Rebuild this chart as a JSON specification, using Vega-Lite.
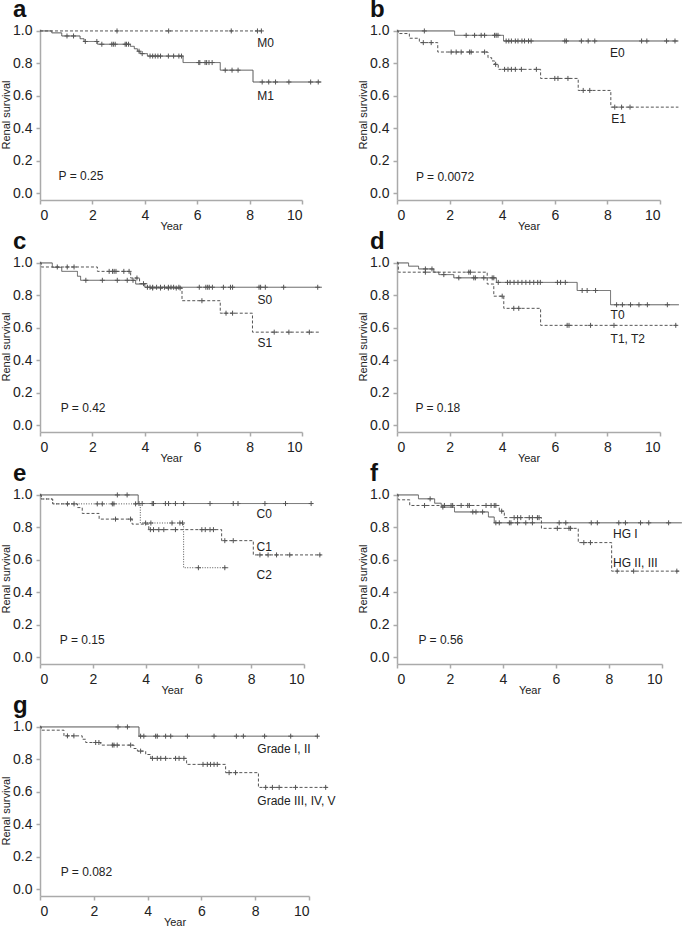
{
"$schema": "https://vega.github.io/schema/vega-lite/v6.json",
"padding": {"left": 0, "top": -3, "right": 0, "bottom": 0},
"background": "white",
"config": {
  "view": {"stroke": null},
  "font": "Liberation Sans",
  "title": {"fontSize": 24, "fontWeight": "bold", "anchor": "start", "frame": "group", "dx": -27, "offset": 2, "color": "#111", "font": "Liberation Sans"},
  "axis": {"grid": false, "domainColor": "#aaa", "domainWidth": 1.5, "tickColor": "#aaa", "tickWidth": 1.5, "tickSize": 4, "labelFont": "Liberation Sans", "labelFontSize": 14, "labelColor": "#222", "titleFont": "Liberation Sans", "titleFontSize": 11, "titleFontWeight": "normal", "titleColor": "#222", "labelPadding": 4},
  "axisX": {"titlePadding": -2},
  "axisY": {"titlePadding": 1}
},
"datasets": {
"km": [
{"p":"a","g":"M0","t":0,"s":1},{"p":"a","g":"M0","t":8.45,"s":1},
{"p":"a","g":"M1","t":0,"s":1},{"p":"a","g":"M1","t":0.45,"s":0.988},{"p":"a","g":"M1","t":0.83,"s":0.969},{"p":"a","g":"M1","t":1.53,"s":0.952},{"p":"a","g":"M1","t":1.68,"s":0.935},{"p":"a","g":"M1","t":2.2,"s":0.918},{"p":"a","g":"M1","t":3.45,"s":0.905},{"p":"a","g":"M1","t":3.6,"s":0.89},{"p":"a","g":"M1","t":3.72,"s":0.875},{"p":"a","g":"M1","t":3.82,"s":0.86},{"p":"a","g":"M1","t":4.1,"s":0.845},{"p":"a","g":"M1","t":5.46,"s":0.805},{"p":"a","g":"M1","t":6.88,"s":0.758},{"p":"a","g":"M1","t":8.13,"s":0.685},{"p":"a","g":"M1","t":10.74,"s":0.685},
{"p":"b","g":"E0","t":0,"s":1},{"p":"b","g":"E0","t":2.19,"s":0.973},{"p":"b","g":"E0","t":4.05,"s":0.938},{"p":"b","g":"E0","t":10.7,"s":0.938},
{"p":"b","g":"E1","t":0,"s":1},{"p":"b","g":"E1","t":0.05,"s":0.984},{"p":"b","g":"E1","t":0.47,"s":0.955},{"p":"b","g":"E1","t":0.85,"s":0.928},{"p":"b","g":"E1","t":1.55,"s":0.87},{"p":"b","g":"E1","t":3.46,"s":0.835},{"p":"b","g":"E1","t":3.6,"s":0.815},{"p":"b","g":"E1","t":3.71,"s":0.794},{"p":"b","g":"E1","t":3.85,"s":0.763},{"p":"b","g":"E1","t":5.46,"s":0.707},{"p":"b","g":"E1","t":6.89,"s":0.633},{"p":"b","g":"E1","t":8.13,"s":0.53},{"p":"b","g":"E1","t":10.7,"s":0.53},
{"p":"c","g":"S0","t":0,"s":1},{"p":"c","g":"S0","t":0.47,"s":0.973},{"p":"c","g":"S0","t":0.83,"s":0.948},{"p":"c","g":"S0","t":1.43,"s":0.918},{"p":"c","g":"S0","t":1.55,"s":0.893},{"p":"c","g":"S0","t":3.65,"s":0.87},{"p":"c","g":"S0","t":4.0,"s":0.85},{"p":"c","g":"S0","t":10.76,"s":0.85},
{"p":"c","g":"S1","t":0,"s":1},{"p":"c","g":"S1","t":0.05,"s":0.975},{"p":"c","g":"S1","t":2.19,"s":0.948},{"p":"c","g":"S1","t":3.46,"s":0.907},{"p":"c","g":"S1","t":3.8,"s":0.872},{"p":"c","g":"S1","t":4.1,"s":0.845},{"p":"c","g":"S1","t":5.42,"s":0.767},{"p":"c","g":"S1","t":6.88,"s":0.69},{"p":"c","g":"S1","t":8.11,"s":0.573},{"p":"c","g":"S1","t":10.65,"s":0.573},
{"p":"d","g":"T0","t":0,"s":1},{"p":"d","g":"T0","t":0.44,"s":0.98},{"p":"d","g":"T0","t":0.82,"s":0.963},{"p":"d","g":"T0","t":1.4,"s":0.943},{"p":"d","g":"T0","t":1.59,"s":0.928},{"p":"d","g":"T0","t":2.16,"s":0.908},{"p":"d","g":"T0","t":3.78,"s":0.88},{"p":"d","g":"T0","t":6.85,"s":0.83},{"p":"d","g":"T0","t":8.12,"s":0.742},{"p":"d","g":"T0","t":10.72,"s":0.742},
{"p":"d","g":"T12","t":0,"s":1},{"p":"d","g":"T12","t":0.05,"s":0.943},{"p":"d","g":"T12","t":3.43,"s":0.87},{"p":"d","g":"T12","t":3.68,"s":0.795},{"p":"d","g":"T12","t":4.06,"s":0.72},{"p":"d","g":"T12","t":5.46,"s":0.615},{"p":"d","g":"T12","t":10.65,"s":0.615},
{"p":"e","g":"C0","t":0,"s":1},{"p":"e","g":"C0","t":3.72,"s":0.947},{"p":"e","g":"C0","t":10.34,"s":0.947},
{"p":"e","g":"C1","t":0,"s":1},{"p":"e","g":"C1","t":0.05,"s":0.975},{"p":"e","g":"C1","t":0.48,"s":0.945},{"p":"e","g":"C1","t":1.42,"s":0.922},{"p":"e","g":"C1","t":1.6,"s":0.886},{"p":"e","g":"C1","t":2.24,"s":0.851},{"p":"e","g":"C1","t":3.49,"s":0.82},{"p":"e","g":"C1","t":4.12,"s":0.786},{"p":"e","g":"C1","t":6.88,"s":0.718},{"p":"e","g":"C1","t":8.08,"s":0.63},{"p":"e","g":"C1","t":10.65,"s":0.63},
{"p":"e","g":"C2","t":0,"s":1},{"p":"e","g":"C2","t":0.05,"s":0.975},{"p":"e","g":"C2","t":0.48,"s":0.945},{"p":"e","g":"C2","t":3.8,"s":0.827},{"p":"e","g":"C2","t":5.44,"s":0.551},{"p":"e","g":"C2","t":7.13,"s":0.551},
{"p":"f","g":"HG1","t":0,"s":1},{"p":"f","g":"HG1","t":0.81,"s":0.976},{"p":"f","g":"HG1","t":1.42,"s":0.949},{"p":"f","g":"HG1","t":1.67,"s":0.925},{"p":"f","g":"HG1","t":2.17,"s":0.895},{"p":"f","g":"HG1","t":3.45,"s":0.864},{"p":"f","g":"HG1","t":3.67,"s":0.828},{"p":"f","g":"HG1","t":10.75,"s":0.828},
{"p":"f","g":"HG23","t":0,"s":1},{"p":"f","g":"HG23","t":0.05,"s":0.97},{"p":"f","g":"HG23","t":0.48,"s":0.935},{"p":"f","g":"HG23","t":3.86,"s":0.9},{"p":"f","g":"HG23","t":4.05,"s":0.86},{"p":"f","g":"HG23","t":5.45,"s":0.794},{"p":"f","g":"HG23","t":6.84,"s":0.706},{"p":"f","g":"HG23","t":8.1,"s":0.53},{"p":"f","g":"HG23","t":10.69,"s":0.53},
{"p":"g","g":"G12","t":0,"s":1},{"p":"g","g":"G12","t":3.68,"s":0.943},{"p":"g","g":"G12","t":10.35,"s":0.943},
{"p":"g","g":"G35","t":0,"s":1},{"p":"g","g":"G35","t":0.05,"s":0.98},{"p":"g","g":"G35","t":0.89,"s":0.945},{"p":"g","g":"G35","t":1.57,"s":0.924},{"p":"g","g":"G35","t":1.7,"s":0.904},{"p":"g","g":"G35","t":2.26,"s":0.888},{"p":"g","g":"G35","t":3.49,"s":0.867},{"p":"g","g":"G35","t":3.62,"s":0.851},{"p":"g","g":"G35","t":3.93,"s":0.83},{"p":"g","g":"G35","t":4.12,"s":0.806},{"p":"g","g":"G35","t":5.45,"s":0.769},{"p":"g","g":"G35","t":6.9,"s":0.718},{"p":"g","g":"G35","t":8.12,"s":0.627},{"p":"g","g":"G35","t":10.68,"s":0.627}
],
"cen": [
{"p":"a","t":2.94,"s":1},{"p":"a","t":4.91,"s":1},{"p":"a","t":7.3,"s":1},{"p":"a","t":8.3,"s":1},{"p":"a","t":8.45,"s":1},
{"p":"a","t":1.03,"s":0.969},{"p":"a","t":1.28,"s":0.969},{"p":"a","t":1.73,"s":0.935},{"p":"a","t":2.17,"s":0.935},{"p":"a","t":2.36,"s":0.918},{"p":"a","t":2.74,"s":0.918},{"p":"a","t":2.8,"s":0.918},{"p":"a","t":2.87,"s":0.918},{"p":"a","t":3.25,"s":0.918},{"p":"a","t":3.3,"s":0.918},{"p":"a","t":3.38,"s":0.918},{"p":"a","t":3.78,"s":0.875},{"p":"a","t":3.9,"s":0.86},{"p":"a","t":4.2,"s":0.845},{"p":"a","t":4.3,"s":0.845},{"p":"a","t":4.4,"s":0.845},{"p":"a","t":4.5,"s":0.845},{"p":"a","t":4.6,"s":0.845},{"p":"a","t":4.9,"s":0.845},{"p":"a","t":5.1,"s":0.845},{"p":"a","t":5.3,"s":0.845},{"p":"a","t":5.4,"s":0.845},{"p":"a","t":6.06,"s":0.805},{"p":"a","t":6.1,"s":0.805},{"p":"a","t":6.3,"s":0.805},{"p":"a","t":6.36,"s":0.805},{"p":"a","t":6.45,"s":0.805},{"p":"a","t":6.57,"s":0.805},{"p":"a","t":7.07,"s":0.758},{"p":"a","t":7.33,"s":0.758},{"p":"a","t":7.56,"s":0.758},{"p":"a","t":8.48,"s":0.685},{"p":"a","t":8.73,"s":0.685},{"p":"a","t":8.99,"s":0.685},{"p":"a","t":9.5,"s":0.685},{"p":"a","t":10.33,"s":0.685},{"p":"a","t":10.62,"s":0.685},
{"p":"b","t":1.04,"s":1},{"p":"b","t":2.63,"s":0.973},{"p":"b","t":2.95,"s":0.973},{"p":"b","t":3.2,"s":0.973},{"p":"b","t":3.33,"s":0.973},{"p":"b","t":3.71,"s":0.973},{"p":"b","t":3.77,"s":0.973},{"p":"b","t":3.84,"s":0.973},{"p":"b","t":4.15,"s":0.938},{"p":"b","t":4.25,"s":0.938},{"p":"b","t":4.35,"s":0.938},{"p":"b","t":4.5,"s":0.938},{"p":"b","t":4.6,"s":0.938},{"p":"b","t":4.75,"s":0.938},{"p":"b","t":4.85,"s":0.938},{"p":"b","t":5.0,"s":0.938},{"p":"b","t":5.1,"s":0.938},{"p":"b","t":6.38,"s":0.938},{"p":"b","t":6.44,"s":0.938},{"p":"b","t":7.01,"s":0.938},{"p":"b","t":7.27,"s":0.938},{"p":"b","t":7.52,"s":0.938},{"p":"b","t":9.3,"s":0.938},{"p":"b","t":9.5,"s":0.938},{"p":"b","t":10.25,"s":0.938},{"p":"b","t":10.57,"s":0.938},
{"p":"b","t":1.0,"s":0.928},{"p":"b","t":1.3,"s":0.928},{"p":"b","t":2.06,"s":0.87},{"p":"b","t":2.25,"s":0.87},{"p":"b","t":2.44,"s":0.87},{"p":"b","t":2.76,"s":0.87},{"p":"b","t":2.82,"s":0.87},{"p":"b","t":3.33,"s":0.87},{"p":"b","t":3.75,"s":0.794},{"p":"b","t":4.09,"s":0.763},{"p":"b","t":4.22,"s":0.763},{"p":"b","t":4.35,"s":0.763},{"p":"b","t":4.5,"s":0.763},{"p":"b","t":4.73,"s":0.763},{"p":"b","t":5.3,"s":0.763},{"p":"b","t":6.0,"s":0.707},{"p":"b","t":6.12,"s":0.707},{"p":"b","t":6.5,"s":0.707},{"p":"b","t":7.08,"s":0.633},{"p":"b","t":7.33,"s":0.633},{"p":"b","t":8.28,"s":0.53},{"p":"b","t":8.54,"s":0.53},{"p":"b","t":8.86,"s":0.53},
{"p":"c","t":1.75,"s":0.893},{"p":"c","t":2.38,"s":0.893},{"p":"c","t":2.95,"s":0.893},{"p":"c","t":3.33,"s":0.893},{"p":"c","t":3.55,"s":0.893},{"p":"c","t":4.1,"s":0.85},{"p":"c","t":4.2,"s":0.85},{"p":"c","t":4.3,"s":0.85},{"p":"c","t":4.45,"s":0.85},{"p":"c","t":4.6,"s":0.85},{"p":"c","t":4.75,"s":0.85},{"p":"c","t":4.9,"s":0.85},{"p":"c","t":5.0,"s":0.85},{"p":"c","t":5.1,"s":0.85},{"p":"c","t":5.3,"s":0.85},{"p":"c","t":6.08,"s":0.85},{"p":"c","t":6.33,"s":0.85},{"p":"c","t":6.4,"s":0.85},{"p":"c","t":6.46,"s":0.85},{"p":"c","t":6.58,"s":0.85},{"p":"c","t":7.0,"s":0.85},{"p":"c","t":7.27,"s":0.85},{"p":"c","t":7.35,"s":0.85},{"p":"c","t":8.36,"s":0.85},{"p":"c","t":8.42,"s":0.85},{"p":"c","t":8.6,"s":0.85},{"p":"c","t":9.3,"s":0.85},{"p":"c","t":10.6,"s":0.85},
{"p":"c","t":0.66,"s":0.975},{"p":"c","t":1.04,"s":0.975},{"p":"c","t":1.3,"s":0.975},{"p":"c","t":2.64,"s":0.948},{"p":"c","t":2.77,"s":0.948},{"p":"c","t":2.83,"s":0.948},{"p":"c","t":2.9,"s":0.948},{"p":"c","t":3.2,"s":0.948},{"p":"c","t":3.4,"s":0.948},{"p":"c","t":3.7,"s":0.907},{"p":"c","t":3.95,"s":0.872},{"p":"c","t":4.3,"s":0.845},{"p":"c","t":4.6,"s":0.845},{"p":"c","t":4.9,"s":0.845},{"p":"c","t":5.2,"s":0.845},{"p":"c","t":5.35,"s":0.845},{"p":"c","t":6.18,"s":0.767},{"p":"c","t":7.1,"s":0.69},{"p":"c","t":7.35,"s":0.69},{"p":"c","t":8.94,"s":0.573},{"p":"c","t":9.5,"s":0.573},{"p":"c","t":10.28,"s":0.573},
{"p":"d","t":1.08,"s":0.963},{"p":"d","t":1.33,"s":0.963},{"p":"d","t":1.78,"s":0.928},{"p":"d","t":2.35,"s":0.908},{"p":"d","t":2.92,"s":0.908},{"p":"d","t":2.98,"s":0.908},{"p":"d","t":3.3,"s":0.908},{"p":"d","t":3.62,"s":0.908},{"p":"d","t":3.68,"s":0.908},{"p":"d","t":3.85,"s":0.88},{"p":"d","t":4.2,"s":0.88},{"p":"d","t":4.3,"s":0.88},{"p":"d","t":4.45,"s":0.88},{"p":"d","t":4.6,"s":0.88},{"p":"d","t":4.75,"s":0.88},{"p":"d","t":4.9,"s":0.88},{"p":"d","t":5.05,"s":0.88},{"p":"d","t":5.2,"s":0.88},{"p":"d","t":5.35,"s":0.88},{"p":"d","t":5.45,"s":0.88},{"p":"d","t":6.1,"s":0.88},{"p":"d","t":6.22,"s":0.88},{"p":"d","t":6.4,"s":0.88},{"p":"d","t":7.04,"s":0.83},{"p":"d","t":7.23,"s":0.83},{"p":"d","t":7.55,"s":0.83},{"p":"d","t":8.35,"s":0.742},{"p":"d","t":8.57,"s":0.742},{"p":"d","t":8.88,"s":0.742},{"p":"d","t":9.2,"s":0.742},{"p":"d","t":9.52,"s":0.742},{"p":"d","t":10.28,"s":0.742},
{"p":"d","t":1.08,"s":0.943},{"p":"d","t":2.73,"s":0.943},{"p":"d","t":2.79,"s":0.943},{"p":"d","t":4.0,"s":0.795},{"p":"d","t":4.44,"s":0.72},{"p":"d","t":4.63,"s":0.72},{"p":"d","t":6.47,"s":0.615},{"p":"d","t":6.54,"s":0.615},{"p":"d","t":7.36,"s":0.615},{"p":"d","t":8.25,"s":0.615},{"p":"d","t":10.6,"s":0.615},
{"p":"e","t":2.93,"s":1},{"p":"e","t":3.3,"s":1},{"p":"e","t":3.75,"s":0.947},{"p":"e","t":3.87,"s":0.947},{"p":"e","t":4.25,"s":0.947},{"p":"e","t":4.3,"s":0.947},{"p":"e","t":4.75,"s":0.947},{"p":"e","t":4.87,"s":0.947},{"p":"e","t":5.13,"s":0.947},{"p":"e","t":5.44,"s":0.947},{"p":"e","t":6.44,"s":0.947},{"p":"e","t":7.32,"s":0.947},{"p":"e","t":7.5,"s":0.947},{"p":"e","t":8.52,"s":0.947},{"p":"e","t":9.3,"s":0.947},{"p":"e","t":10.27,"s":0.947},
{"p":"e","t":2.86,"s":0.851},{"p":"e","t":3.43,"s":0.851},{"p":"e","t":4.18,"s":0.786},{"p":"e","t":4.3,"s":0.786},{"p":"e","t":4.5,"s":0.786},{"p":"e","t":4.69,"s":0.786},{"p":"e","t":5.13,"s":0.786},{"p":"e","t":6.13,"s":0.786},{"p":"e","t":6.26,"s":0.786},{"p":"e","t":6.44,"s":0.786},{"p":"e","t":6.57,"s":0.786},{"p":"e","t":7.0,"s":0.718},{"p":"e","t":7.32,"s":0.718},{"p":"e","t":8.33,"s":0.63},{"p":"e","t":8.64,"s":0.63},{"p":"e","t":8.96,"s":0.63},{"p":"e","t":9.46,"s":0.63},{"p":"e","t":10.6,"s":0.63},
{"p":"e","t":1.04,"s":0.945},{"p":"e","t":1.29,"s":0.945},{"p":"e","t":2.17,"s":0.945},{"p":"e","t":2.36,"s":0.945},{"p":"e","t":2.74,"s":0.945},{"p":"e","t":2.8,"s":0.945},{"p":"e","t":3.62,"s":0.945},{"p":"e","t":4.0,"s":0.827},{"p":"e","t":4.2,"s":0.827},{"p":"e","t":5.0,"s":0.827},{"p":"e","t":5.3,"s":0.827},{"p":"e","t":5.4,"s":0.827},{"p":"e","t":6.0,"s":0.551},{"p":"e","t":7.0,"s":0.551},
{"p":"f","t":1.25,"s":0.976},{"p":"f","t":1.73,"s":0.925},{"p":"f","t":2.86,"s":0.895},{"p":"f","t":2.98,"s":0.895},{"p":"f","t":3.23,"s":0.895},{"p":"f","t":3.73,"s":0.828},{"p":"f","t":3.86,"s":0.828},{"p":"f","t":4.24,"s":0.828},{"p":"f","t":4.3,"s":0.828},{"p":"f","t":4.55,"s":0.828},{"p":"f","t":4.86,"s":0.828},{"p":"f","t":5.11,"s":0.828},{"p":"f","t":6.12,"s":0.828},{"p":"f","t":6.37,"s":0.828},{"p":"f","t":7.33,"s":0.828},{"p":"f","t":7.56,"s":0.828},{"p":"f","t":8.37,"s":0.828},{"p":"f","t":8.62,"s":0.828},{"p":"f","t":9.19,"s":0.828},{"p":"f","t":9.5,"s":0.828},{"p":"f","t":10.25,"s":0.828},
{"p":"f","t":1.04,"s":0.935},{"p":"f","t":1.79,"s":0.935},{"p":"f","t":2.04,"s":0.935},{"p":"f","t":2.1,"s":0.935},{"p":"f","t":2.42,"s":0.935},{"p":"f","t":2.67,"s":0.935},{"p":"f","t":2.73,"s":0.935},{"p":"f","t":3.36,"s":0.935},{"p":"f","t":3.55,"s":0.935},{"p":"f","t":3.67,"s":0.935},{"p":"f","t":3.73,"s":0.935},{"p":"f","t":3.95,"s":0.9},{"p":"f","t":4.42,"s":0.86},{"p":"f","t":4.55,"s":0.86},{"p":"f","t":4.67,"s":0.86},{"p":"f","t":4.99,"s":0.86},{"p":"f","t":5.11,"s":0.86},{"p":"f","t":5.3,"s":0.86},{"p":"f","t":5.36,"s":0.86},{"p":"f","t":6.05,"s":0.794},{"p":"f","t":6.49,"s":0.794},{"p":"f","t":6.55,"s":0.794},{"p":"f","t":7.05,"s":0.706},{"p":"f","t":7.3,"s":0.706},{"p":"f","t":8.31,"s":0.53},{"p":"f","t":8.93,"s":0.53},{"p":"f","t":10.56,"s":0.53},
{"p":"g","t":2.9,"s":1},{"p":"g","t":3.25,"s":1},{"p":"g","t":3.74,"s":0.943},{"p":"g","t":3.86,"s":0.943},{"p":"g","t":4.3,"s":0.943},{"p":"g","t":4.36,"s":0.943},{"p":"g","t":4.67,"s":0.943},{"p":"g","t":4.86,"s":0.943},{"p":"g","t":5.48,"s":0.943},{"p":"g","t":6.47,"s":0.943},{"p":"g","t":7.3,"s":0.943},{"p":"g","t":7.56,"s":0.943},{"p":"g","t":8.35,"s":0.943},{"p":"g","t":9.32,"s":0.943},{"p":"g","t":10.31,"s":0.943},
{"p":"g","t":1.02,"s":0.945},{"p":"g","t":1.26,"s":0.945},{"p":"g","t":2.07,"s":0.904},{"p":"g","t":2.19,"s":0.904},{"p":"g","t":2.69,"s":0.888},{"p":"g","t":2.75,"s":0.888},{"p":"g","t":2.87,"s":0.888},{"p":"g","t":3.37,"s":0.888},{"p":"g","t":3.74,"s":0.851},{"p":"g","t":4.18,"s":0.806},{"p":"g","t":4.36,"s":0.806},{"p":"g","t":4.49,"s":0.806},{"p":"g","t":4.67,"s":0.806},{"p":"g","t":5.04,"s":0.806},{"p":"g","t":5.17,"s":0.806},{"p":"g","t":5.35,"s":0.806},{"p":"g","t":6.06,"s":0.769},{"p":"g","t":6.22,"s":0.769},{"p":"g","t":6.34,"s":0.769},{"p":"g","t":6.47,"s":0.769},{"p":"g","t":6.59,"s":0.769},{"p":"g","t":7.03,"s":0.718},{"p":"g","t":7.27,"s":0.718},{"p":"g","t":8.39,"s":0.627},{"p":"g","t":8.64,"s":0.627},{"p":"g","t":8.89,"s":0.627},{"p":"g","t":9.5,"s":0.627},{"p":"g","t":10.62,"s":0.627}
],
"lab": [
{"p":"a","txt":"M0","t":8.29,"s":0.928},{"p":"a","txt":"M1","t":8.29,"s":0.6},{"p":"a","txt":"P = 0.25","t":0.71,"s":0.105},
{"p":"b","txt":"E0","t":8.1,"s":0.866},{"p":"b","txt":"E1","t":8.15,"s":0.454},{"p":"b","txt":"P = 0.0072","t":0.72,"s":0.1},
{"p":"c","txt":"S0","t":8.3,"s":0.773},{"p":"c","txt":"S1","t":8.3,"s":0.505},{"p":"c","txt":"P = 0.42","t":0.79,"s":0.103},
{"p":"d","txt":"T0","t":8.12,"s":0.676},{"p":"d","txt":"T1, T2","t":8.12,"s":0.533},{"p":"d","txt":"P = 0.18","t":0.7,"s":0.102},
{"p":"e","txt":"C0","t":8.2,"s":0.88},{"p":"e","txt":"C1","t":8.2,"s":0.678},{"p":"e","txt":"C2","t":8.2,"s":0.504},{"p":"e","txt":"P = 0.15","t":0.75,"s":0.106},
{"p":"f","txt":"HG I","t":8.15,"s":0.757},{"p":"f","txt":"HG II, III","t":8.15,"s":0.58},{"p":"f","txt":"P = 0.56","t":0.81,"s":0.105},
{"p":"g","txt":"Grade I, II","t":8.08,"s":0.861},{"p":"g","txt":"Grade III, IV, V","t":8.08,"s":0.541},{"p":"g","txt":"P = 0.082","t":0.77,"s":0.102}
]
},
"columns": 2,
"bounds": "flush",
"align": "none",
"spacing": {"row": 61, "column": 88},
"resolve": {"scale": {"x": "independent", "y": "independent", "strokeDash": "independent"}},
"concat": [
{"title": "a", "width": 262, "height": 171,
 "encoding": {"x": {"field": "t", "type": "quantitative", "scale": {"domain": [0, 10], "nice": false, "zero": false}, "axis": {"values": [0,2,4,6,8,10], "title": "Year"}}, "y": {"field": "s", "type": "quantitative", "scale": {"domain": [-0.043, 1.012], "nice": false, "zero": false}, "axis": {"values": [0,0.2,0.4,0.6,0.8,1], "format": ".1f", "title": "Renal survival"}}},
 "layer": [
  {"data": {"name": "km"}, "transform": [{"filter": "datum.p === 'a'"}], "mark": {"type": "line", "interpolate": "step-after", "clip": false, "strokeWidth": 1, "color": "#555"}, "encoding": {"strokeDash": {"field": "g", "type": "nominal", "scale": {"domain": ["M0","M1"], "range": [[3,2],[1,0]]}, "legend": null}}},
  {"data": {"name": "cen"}, "transform": [{"filter": "datum.p === 'a'"}], "mark": {"type": "point", "shape": "M0,-1V1M-1,0H1", "filled": false, "size": 25, "strokeWidth": 1, "color": "#555", "opacity": 1, "clip": false}},
  {"data": {"name": "lab"}, "transform": [{"filter": "datum.p === 'a'"}], "mark": {"type": "text", "align": "left", "baseline": "middle", "fontSize": 12, "font": "Liberation Sans", "color": "#222", "clip": false}, "encoding": {"text": {"field": "txt"}}}
 ]},
{"title": "b", "width": 263, "height": 171,
 "encoding": {"x": {"field": "t", "type": "quantitative", "scale": {"domain": [0, 10], "nice": false, "zero": false}, "axis": {"values": [0,2,4,6,8,10], "title": "Year"}}, "y": {"field": "s", "type": "quantitative", "scale": {"domain": [-0.043, 1.012], "nice": false, "zero": false}, "axis": {"values": [0,0.2,0.4,0.6,0.8,1], "format": ".1f", "title": "Renal survival"}}},
 "layer": [
  {"data": {"name": "km"}, "transform": [{"filter": "datum.p === 'b'"}], "mark": {"type": "line", "interpolate": "step-after", "clip": false, "strokeWidth": 1, "color": "#555"}, "encoding": {"strokeDash": {"field": "g", "type": "nominal", "scale": {"domain": ["E0","E1"], "range": [[1,0],[3,2]]}, "legend": null}}},
  {"data": {"name": "cen"}, "transform": [{"filter": "datum.p === 'b'"}], "mark": {"type": "point", "shape": "M0,-1V1M-1,0H1", "filled": false, "size": 25, "strokeWidth": 1, "color": "#555", "opacity": 1, "clip": false}},
  {"data": {"name": "lab"}, "transform": [{"filter": "datum.p === 'b'"}], "mark": {"type": "text", "align": "left", "baseline": "middle", "fontSize": 12, "font": "Liberation Sans", "color": "#222", "clip": false}, "encoding": {"text": {"field": "txt"}}}
 ]},
{"title": "c", "width": 262, "height": 171,
 "encoding": {"x": {"field": "t", "type": "quantitative", "scale": {"domain": [0, 10], "nice": false, "zero": false}, "axis": {"values": [0,2,4,6,8,10], "title": "Year"}}, "y": {"field": "s", "type": "quantitative", "scale": {"domain": [-0.043, 1.012], "nice": false, "zero": false}, "axis": {"values": [0,0.2,0.4,0.6,0.8,1], "format": ".1f", "title": "Renal survival"}}},
 "layer": [
  {"data": {"name": "km"}, "transform": [{"filter": "datum.p === 'c'"}], "mark": {"type": "line", "interpolate": "step-after", "clip": false, "strokeWidth": 1, "color": "#555"}, "encoding": {"strokeDash": {"field": "g", "type": "nominal", "scale": {"domain": ["S0","S1"], "range": [[1,0],[3,2]]}, "legend": null}}},
  {"data": {"name": "cen"}, "transform": [{"filter": "datum.p === 'c'"}], "mark": {"type": "point", "shape": "M0,-1V1M-1,0H1", "filled": false, "size": 25, "strokeWidth": 1, "color": "#555", "opacity": 1, "clip": false}},
  {"data": {"name": "lab"}, "transform": [{"filter": "datum.p === 'c'"}], "mark": {"type": "text", "align": "left", "baseline": "middle", "fontSize": 12, "font": "Liberation Sans", "color": "#222", "clip": false}, "encoding": {"text": {"field": "txt"}}}
 ]},
{"title": "d", "width": 263, "height": 171,
 "encoding": {"x": {"field": "t", "type": "quantitative", "scale": {"domain": [0, 10], "nice": false, "zero": false}, "axis": {"values": [0,2,4,6,8,10], "title": "Year"}}, "y": {"field": "s", "type": "quantitative", "scale": {"domain": [-0.043, 1.012], "nice": false, "zero": false}, "axis": {"values": [0,0.2,0.4,0.6,0.8,1], "format": ".1f", "title": "Renal survival"}}},
 "layer": [
  {"data": {"name": "km"}, "transform": [{"filter": "datum.p === 'd'"}], "mark": {"type": "line", "interpolate": "step-after", "clip": false, "strokeWidth": 1, "color": "#555"}, "encoding": {"strokeDash": {"field": "g", "type": "nominal", "scale": {"domain": ["T0","T12"], "range": [[1,0],[3,2]]}, "legend": null}}},
  {"data": {"name": "cen"}, "transform": [{"filter": "datum.p === 'd'"}], "mark": {"type": "point", "shape": "M0,-1V1M-1,0H1", "filled": false, "size": 25, "strokeWidth": 1, "color": "#555", "opacity": 1, "clip": false}},
  {"data": {"name": "lab"}, "transform": [{"filter": "datum.p === 'd'"}], "mark": {"type": "text", "align": "left", "baseline": "middle", "fontSize": 12, "font": "Liberation Sans", "color": "#222", "clip": false}, "encoding": {"text": {"field": "txt"}}}
 ]},
{"title": "e", "width": 264, "height": 171,
 "encoding": {"x": {"field": "t", "type": "quantitative", "scale": {"domain": [0, 10], "nice": false, "zero": false}, "axis": {"values": [0,2,4,6,8,10], "title": "Year"}}, "y": {"field": "s", "type": "quantitative", "scale": {"domain": [-0.043, 1.012], "nice": false, "zero": false}, "axis": {"values": [0,0.2,0.4,0.6,0.8,1], "format": ".1f", "title": "Renal survival"}}},
 "layer": [
  {"data": {"name": "km"}, "transform": [{"filter": "datum.p === 'e'"}], "mark": {"type": "line", "interpolate": "step-after", "clip": false, "strokeWidth": 1, "color": "#555"}, "encoding": {"strokeDash": {"field": "g", "type": "nominal", "scale": {"domain": ["C0","C1","C2"], "range": [[1,0],[3,2],[1,1.5]]}, "legend": null}}},
  {"data": {"name": "cen"}, "transform": [{"filter": "datum.p === 'e'"}], "mark": {"type": "point", "shape": "M0,-1V1M-1,0H1", "filled": false, "size": 25, "strokeWidth": 1, "color": "#555", "opacity": 1, "clip": false}},
  {"data": {"name": "lab"}, "transform": [{"filter": "datum.p === 'e'"}], "mark": {"type": "text", "align": "left", "baseline": "middle", "fontSize": 12, "font": "Liberation Sans", "color": "#222", "clip": false}, "encoding": {"text": {"field": "txt"}}}
 ]},
{"title": "f", "width": 265, "height": 171,
 "encoding": {"x": {"field": "t", "type": "quantitative", "scale": {"domain": [0, 10], "nice": false, "zero": false}, "axis": {"values": [0,2,4,6,8,10], "title": "Year"}}, "y": {"field": "s", "type": "quantitative", "scale": {"domain": [-0.043, 1.012], "nice": false, "zero": false}, "axis": {"values": [0,0.2,0.4,0.6,0.8,1], "format": ".1f", "title": "Renal survival"}}},
 "layer": [
  {"data": {"name": "km"}, "transform": [{"filter": "datum.p === 'f'"}], "mark": {"type": "line", "interpolate": "step-after", "clip": false, "strokeWidth": 1, "color": "#555"}, "encoding": {"strokeDash": {"field": "g", "type": "nominal", "scale": {"domain": ["HG1","HG23"], "range": [[1,0],[3,2]]}, "legend": null}}},
  {"data": {"name": "cen"}, "transform": [{"filter": "datum.p === 'f'"}], "mark": {"type": "point", "shape": "M0,-1V1M-1,0H1", "filled": false, "size": 25, "strokeWidth": 1, "color": "#555", "opacity": 1, "clip": false}},
  {"data": {"name": "lab"}, "transform": [{"filter": "datum.p === 'f'"}], "mark": {"type": "text", "align": "left", "baseline": "middle", "fontSize": 12, "font": "Liberation Sans", "color": "#222", "clip": false}, "encoding": {"text": {"field": "txt"}}}
 ]},
{"title": "g", "width": 269, "height": 171,
 "encoding": {"x": {"field": "t", "type": "quantitative", "scale": {"domain": [0, 10], "nice": false, "zero": false}, "axis": {"values": [0,2,4,6,8,10], "title": "Year"}}, "y": {"field": "s", "type": "quantitative", "scale": {"domain": [-0.043, 1.012], "nice": false, "zero": false}, "axis": {"values": [0,0.2,0.4,0.6,0.8,1], "format": ".1f", "title": "Renal survival"}}},
 "layer": [
  {"data": {"name": "km"}, "transform": [{"filter": "datum.p === 'g'"}], "mark": {"type": "line", "interpolate": "step-after", "clip": false, "strokeWidth": 1, "color": "#555"}, "encoding": {"strokeDash": {"field": "g", "type": "nominal", "scale": {"domain": ["G12","G35"], "range": [[1,0],[3,2]]}, "legend": null}}},
  {"data": {"name": "cen"}, "transform": [{"filter": "datum.p === 'g'"}], "mark": {"type": "point", "shape": "M0,-1V1M-1,0H1", "filled": false, "size": 25, "strokeWidth": 1, "color": "#555", "opacity": 1, "clip": false}},
  {"data": {"name": "lab"}, "transform": [{"filter": "datum.p === 'g'"}], "mark": {"type": "text", "align": "left", "baseline": "middle", "fontSize": 12, "font": "Liberation Sans", "color": "#222", "clip": false}, "encoding": {"text": {"field": "txt"}}}
 ]}
]
}
